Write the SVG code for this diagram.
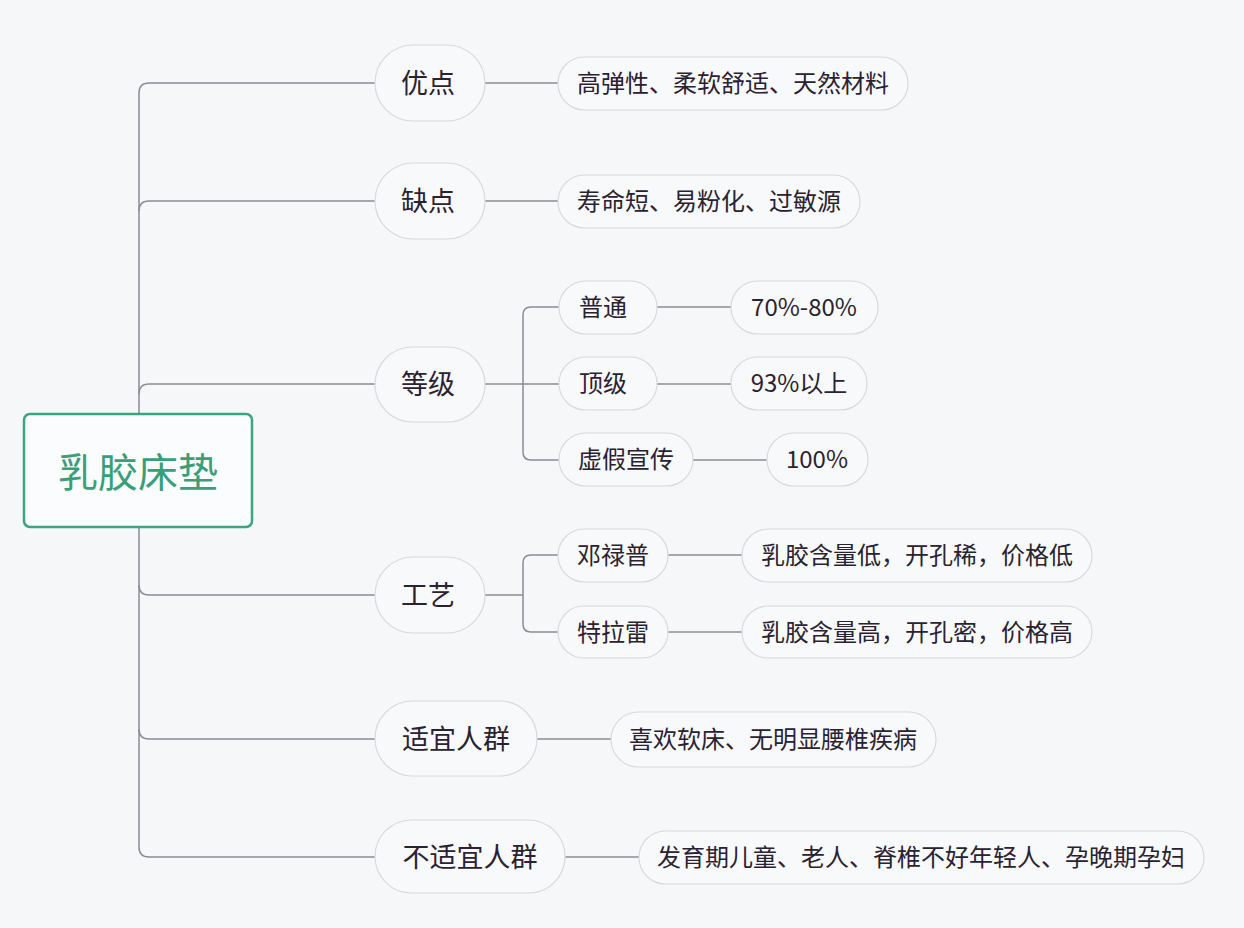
<svg xmlns="http://www.w3.org/2000/svg" width="1244" height="928" viewBox="0 0 1244 928">
<style>
.bg{fill:#f6f7f9}
.pill{fill:#f8f9fb;stroke:#d9d9de;stroke-width:1.2}
.t{font-family:"Noto Sans CJK SC","Noto Sans",sans-serif;fill:#2a2230;text-anchor:middle;dominant-baseline:central}
.l1{font-size:27px}
.l2{font-size:24px}
.ln{fill:none;stroke:#8c8c92;stroke-width:1.5}
</style>
<rect class="bg" x="0" y="0" width="1244" height="928"/>
<g id="connectors">
<path class="ln" d="M375,83 H149 Q139,83 139,93 V847 Q139,857 149,857 H375"/>
<path class="ln" d="M139,211 Q139,201 149,201 H375"/>
<path class="ln" d="M139,394 Q139,384 149,384 H375"/>
<path class="ln" d="M139,585 Q139,595 149,595 H375"/>
<path class="ln" d="M139,729 Q139,739 149,739 H375"/>
<path class="ln" d="M485,83 H558"/>
<path class="ln" d="M485,201 H558"/>
<path class="ln" d="M485,384 H559"/>
<path class="ln" d="M559,307 H531 Q523,307 523,315 V452 Q523,460 531,460 H559"/>
<path class="ln" d="M657,307 H731"/>
<path class="ln" d="M657,384 H731"/>
<path class="ln" d="M693,460 H767"/>
<path class="ln" d="M485,595 H523"/>
<path class="ln" d="M558,555 H531 Q523,555 523,563 V624 Q523,632 531,632 H558"/>
<path class="ln" d="M668,555 H742"/>
<path class="ln" d="M668,632 H742"/>
<path class="ln" d="M537,739 H611"/>
<path class="ln" d="M565,857 H639"/>
</g>
<g id="root">
<rect x="24" y="414" width="228" height="113" rx="6" fill="#fbfcfd" stroke="#3aa57f" stroke-width="2.5"/>
<text class="t" x="138" y="470" font-size="40" style="fill:#3a9f78">乳胶床垫</text>
</g>
<g id="n-youdian"><rect class="pill" x="375" y="45" width="110" height="76" rx="38"/><text class="t l1" x="428" y="81">优点</text></g>
<g id="n-youdian-leaf"><rect class="pill" x="558" y="57" width="350" height="53" rx="26.5"/><text class="t l2" x="733" y="81">高弹性、柔软舒适、天然材料</text></g>
<g id="n-quedian"><rect class="pill" x="375" y="163" width="110" height="76" rx="38"/><text class="t l1" x="428" y="199">缺点</text></g>
<g id="n-quedian-leaf"><rect class="pill" x="558" y="175" width="302" height="53" rx="26.5"/><text class="t l2" x="709" y="199">寿命短、易粉化、过敏源</text></g>
<g id="n-dengji"><rect class="pill" x="375" y="347" width="110" height="75" rx="37.5"/><text class="t l1" x="428" y="382">等级</text></g>
<g id="n-putong"><rect class="pill" x="559" y="281" width="98" height="53" rx="26.5"/><text class="t l2" x="603" y="305">普通</text></g>
<g id="n-putong-leaf"><rect class="pill" x="731" y="281" width="147" height="53" rx="26.5"/><text class="t l2" x="804" y="305">70%-80%</text></g>
<g id="n-dingji"><rect class="pill" x="559" y="357" width="98" height="53" rx="26.5"/><text class="t l2" x="603" y="381">顶级</text></g>
<g id="n-dingji-leaf"><rect class="pill" x="731" y="357" width="136" height="53" rx="26.5"/><text class="t l2" x="799" y="381">93%以上</text></g>
<g id="n-xujia"><rect class="pill" x="559" y="433" width="134" height="53" rx="26.5"/><text class="t l2" x="626" y="457">虚假宣传</text></g>
<g id="n-xujia-leaf"><rect class="pill" x="767" y="433" width="101" height="53" rx="26.5"/><text class="t l2" x="817" y="457">100%</text></g>
<g id="n-gongyi"><rect class="pill" x="375" y="557" width="110" height="76" rx="38"/><text class="t l1" x="428" y="593">工艺</text></g>
<g id="n-denglupu"><rect class="pill" x="558" y="529" width="110" height="53" rx="26.5"/><text class="t l2" x="613" y="553">邓禄普</text></g>
<g id="n-denglupu-leaf"><rect class="pill" x="742" y="529" width="350" height="53" rx="26.5"/><text class="t l2" x="917" y="553">乳胶含量低，开孔稀，价格低</text></g>
<g id="n-telalei"><rect class="pill" x="558" y="606" width="110" height="52" rx="26"/><text class="t l2" x="613" y="630">特拉雷</text></g>
<g id="n-telalei-leaf"><rect class="pill" x="742" y="606" width="350" height="52" rx="26"/><text class="t l2" x="917" y="630">乳胶含量高，开孔密，价格高</text></g>
<g id="n-shiyi"><rect class="pill" x="375" y="701" width="162" height="75" rx="37.5"/><text class="t l1" x="456" y="737">适宜人群</text></g>
<g id="n-shiyi-leaf"><rect class="pill" x="611" y="712" width="325" height="55" rx="27.5"/><text class="t l2" x="773" y="737">喜欢软床、无明显腰椎疾病</text></g>
<g id="n-bushiyi"><rect class="pill" x="375" y="820" width="190" height="73" rx="36.5"/><text class="t l1" x="470" y="855">不适宜人群</text></g>
<g id="n-bushiyi-leaf"><rect class="pill" x="639" y="831" width="565" height="53" rx="26.5"/><text class="t l2" x="921" y="855">发育期儿童、老人、脊椎不好年轻人、孕晚期孕妇</text></g>
</svg>
